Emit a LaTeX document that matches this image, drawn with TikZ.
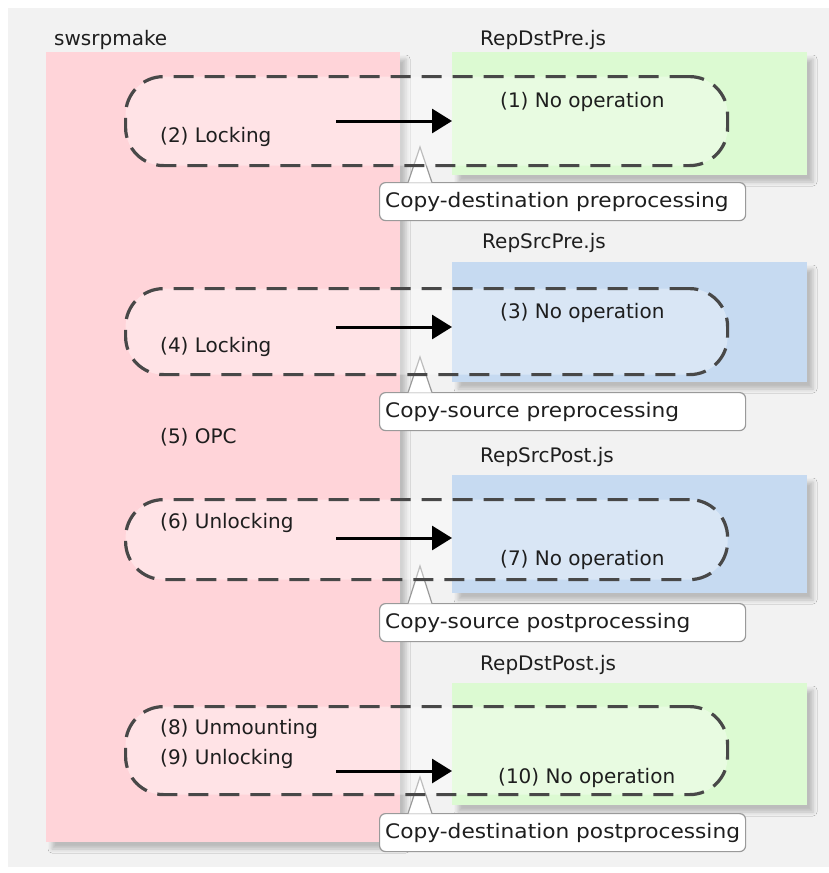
\documentclass[tikz,border=0pt]{standalone}
\usepackage{fontspec}
\setmainfont{DejaVu Sans}
\newfontfamily\calloutfont[FakeStretch=1.085]{DejaVu Sans}
\usetikzlibrary{arrows.meta,shadows.blur}
\definecolor{bggray}{HTML}{F2F2F2}
\definecolor{pinkc}{HTML}{FFD4D9}
\definecolor{greenc}{HTML}{DCFAD2}
\definecolor{bluec}{HTML}{C6DAF1}
\definecolor{dashc}{HTML}{484848}
\definecolor{calloutc}{HTML}{9A9A9A}
\definecolor{txtc}{HTML}{1E1E1E}
\begin{document}
\begin{tikzpicture}[x=1pt,y=-1pt,
  font=\fontsize{20}{24}\selectfont,
  panel/.style={draw=none, anchor=north west, inner sep=0pt, outer sep=0pt,
    blur shadow={shadow xshift=6pt, shadow yshift=-7pt, shadow blur radius=4pt, shadow opacity=22}},
  lbl/.style={anchor=west, inner sep=0pt, text=txtc},
  calltext/.style={anchor=west, inner sep=0pt, text=txtc, font=\fontsize{20}{24}\calloutfont},
  loopbox/.style={draw=dashc, line width=3.2pt, dash pattern=on 20pt off 11pt,
    rounded corners=38pt, fill=white, fill opacity=0.35, anchor=north west,
    minimum width=602pt, inner sep=0pt},
  flow/.style={line width=3pt, -{Triangle[length=20pt,width=24pt]}},
  callbox/.style={draw=calloutc, line width=1.2pt, fill=white, rounded corners=6pt,
    anchor=north west, minimum width=366pt, minimum height=38pt, inner sep=0pt},
  pointer/.style={draw=calloutc, line width=1.2pt, fill=white}
]
\useasboundingbox (0,0) rectangle (829,873);
\fill[bggray] (8,8) rectangle (829,867);

% main command panel
\node[panel, fill=pinkc, minimum width=354pt, minimum height=790pt] (sw) at (46,52) {};
\node[lbl] (swl) at (54,40) {swsrpmake};

% script panels
\node[panel, fill=greenc, minimum width=355pt, minimum height=123pt] (p1) at (452,52) {};
\node[panel, fill=bluec,  minimum width=355pt, minimum height=120pt] (p2) at (452,262) {};
\node[panel, fill=bluec,  minimum width=355pt, minimum height=118pt] (p3) at (452,475) {};
\node[panel, fill=greenc, minimum width=355pt, minimum height=122pt] (p4) at (452,683) {};

\node[lbl] (t1) at (480,40)  {RepDstPre.js};
\node[lbl] (t2) at (482,243) {RepSrcPre.js};
\node[lbl] (t3) at (480,457) {RepSrcPost.js};
\node[lbl] (t4) at (480,665) {RepDstPost.js};

% callouts
\node[callbox] (c1) at (379,182) {};
\draw[pointer] (408,182.6) -- (420,147) -- (432,182.6);
\node[calltext] (c1t) at ([xshift=6pt]c1.west) {Copy-destination preprocessing};

\node[callbox] (c2) at (379,392) {};
\draw[pointer] (408,392.6) -- (420,357) -- (432,392.6);
\node[calltext] (c2t) at ([xshift=6pt]c2.west) {Copy-source preprocessing};

\node[callbox] (c3) at (379,603) {};
\draw[pointer] (408,603.6) -- (420,566) -- (432,603.6);
\node[calltext] (c3t) at ([xshift=6pt]c3.west) {Copy-source postprocessing};

\node[callbox] (c4) at (379,813) {};
\draw[pointer] (408,813.6) -- (420,777) -- (432,813.6);
\node[calltext] (c4t) at ([xshift=6pt]c4.west) {Copy-destination postprocessing};

% dashed loops
\node[loopbox, minimum height=89pt] (l1) at (124,75) {};
\node[loopbox, minimum height=86pt] (l2) at (124,287) {};
\node[loopbox, minimum height=80pt] (l3) at (124,498) {};
\node[loopbox, minimum height=88pt] (l4) at (124,705) {};

% texts
\node[lbl] (a2) at (160,137) {(2) Locking};
\node[lbl] (a1) at (500,102) {(1) No operation};
\node[lbl] (a4) at (160,347) {(4) Locking};
\node[lbl] (a3) at (500,313) {(3) No operation};
\node[lbl] (a5) at (160,437) {(5) OPC};
\node[lbl] (a6) at (160,523) {(6) Unlocking};
\node[lbl] (a7) at (500,560) {(7) No operation};
\node[lbl] (a8) at (160,729) {(8) Unmounting};
\node[lbl] (a9) at (160,759) {(9) Unlocking};
\node[lbl] (a10) at (498,778) {(10) No operation};

% arrows
\coordinate (s1) at (336,121);
\coordinate (s2) at (336,327);
\coordinate (s3) at (336,538);
\coordinate (s4) at (336,771);
\draw[flow] (s1) -- (p1.west |- s1);
\draw[flow] (s2) -- (p2.west |- s2);
\draw[flow] (s3) -- (p3.west |- s3);
\draw[flow] (s4) -- (p4.west |- s4);
\end{tikzpicture}
\end{document}
